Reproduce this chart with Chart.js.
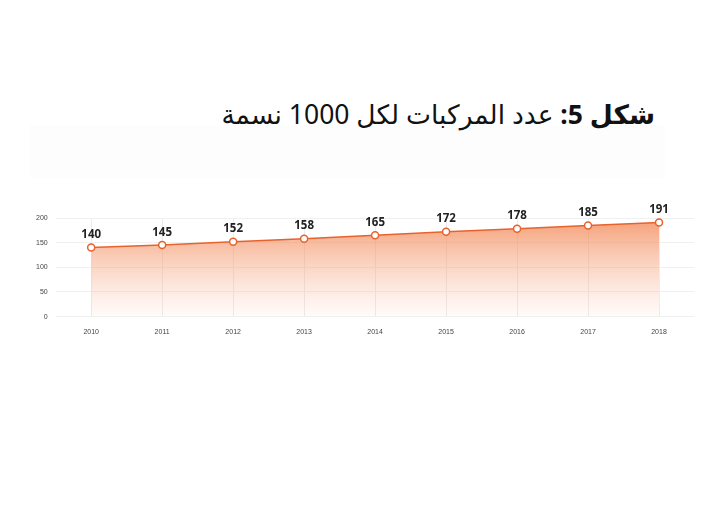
<!DOCTYPE html>
<html lang="ar">
<head>
<meta charset="utf-8">
<script src="https://cdn.jsdelivr.net/npm/chart.js@4.4.0/dist/chart.umd.min.js"></script>
<style>
    html, body { margin: 0; padding: 0; background: #fff; }
    body { width: 720px; height: 509px; position: relative; overflow: hidden; font-family: "Noto Sans", "DejaVu Sans", sans-serif; }
    .title {
        position: absolute; right: 65px; top: 96px;
        direction: rtl; font-size: 26.5px; color: #111; white-space: nowrap;
    }
    .title b { font-weight: 700; }
    .band { position: absolute; left: 30px; top: 125px; width: 635px; height: 53px; background: #fdfdfd; }
    .chart-box { position: absolute; left: 28px; top: 202px; width: 672px; height: 145px; }
</style>
</head>
<body>
<div class="band"></div>
<div class="title"><b>شكل 5:</b> عدد المركبات لكل 1000 نسمة</div>
<div class="chart-box"><canvas id="vehChart"></canvas></div>
<script>
    // data
    const years = ['2010', '2011', '2012', '2013', '2014', '2015', '2016', '2017', '2018'];
    const vehiclesPer1000 = [140, 145, 152, 158, 165, 172, 178, 185, 191];
    const yTicks = [0, 50, 100, 150, 200];

    // value labels above each point
    const pointLabels = {
        id: 'pointLabels',
        afterDatasetsDraw(chart) {
            const ctx = chart.ctx;
            const meta = chart.getDatasetMeta(0);
            ctx.save();
            ctx.font = 'bold 11.5px "Noto Sans", "DejaVu Sans", sans-serif';
            ctx.fillStyle = '#222';
            ctx.textAlign = 'center';
            ctx.textBaseline = 'bottom';
            meta.data.forEach(function (pt, i) {
                ctx.fillText(vehiclesPer1000[i], pt.x, pt.y - 7);
            });
            ctx.restore();
        }
    };

    const ctx = document.getElementById('vehChart');
    new Chart(ctx, {
        type: 'line',
        data: {
            labels: years,
            datasets: [{
                data: vehiclesPer1000,
                borderColor: '#e8622e',
                borderWidth: 1.5,
                pointBackgroundColor: '#fff',
                pointBorderColor: '#e8622e',
                pointBorderWidth: 1.5,
                pointRadius: 3.5,
                tension: 0,
                fill: 'origin',
                backgroundColor: function (context) {
                    const area = context.chart.chartArea;
                    if (!area) return 'rgba(240,130,80,0.5)';
                    const g = context.chart.ctx.createLinearGradient(0, area.top, 0, area.bottom);
                    g.addColorStop(0, 'rgba(240,125,70,0.75)');
                    g.addColorStop(1, 'rgba(250,180,150,0.05)');
                    return g;
                }
            }]
        },
        options: {
            responsive: true,
            maintainAspectRatio: false,
            animation: false,
            layout: { padding: { top: 16, right: 2 } },
            plugins: { legend: { display: false }, tooltip: { enabled: false } },
            scales: {
                x: {
                    offset: true,
                    grid: { offset: false, color: '#ececec', drawTicks: false },
                    border: { display: false },
                    ticks: { color: '#444', font: { size: 7 }, padding: 11, maxRotation: 0 }
                },
                y: {
                    min: 0,
                    max: 200,
                    afterBuildTicks: function (axis) {
                        axis.ticks = yTicks.map(v => ({ value: v }));
                    },
                    grid: { color: '#f0f0f0', drawTicks: false },
                    border: { display: false },
                    ticks: { color: '#444', font: { size: 7 }, padding: 8 }
                }
            }
        },
        plugins: [pointLabels]
    });
</script>
</body>
</html>
